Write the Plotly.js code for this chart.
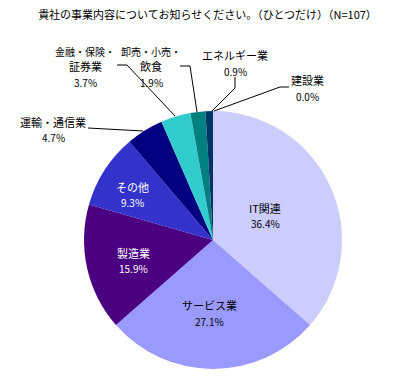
<!DOCTYPE html>
<html>
<head>
<meta charset="utf-8">
<script src="https://cdn.plot.ly/plotly-3.0.1.min.js"></script>
<style>html,body{margin:0;padding:0;background:#fff;}#chart{width:415px;height:380px;}</style>
</head>
<body>
<div id="chart"></div>
<script>
var categories = ["IT関連","サービス業","製造業","その他","運輸・通信業","金融・保険・証券業","卸売・小売・飲食","エネルギー業","建設業"];
var counts = [39, 29, 17, 10, 5, 4, 2, 1, 0];
var percents = ["36.4%","27.1%","15.9%","9.3%","4.7%","3.7%","1.9%","0.9%","0.0%"];
var colors = ["#CCCCFF","#9999FF","#4B0082","#3333CC","#000080","#33CCCC","#008080","#003366","#C0C0C0"];
var labelLines = [["IT関連"],["サービス業"],["製造業"],["その他"],["運輸・通信業"],["金融・保険・","証券業"],["卸売・小売・","飲食"],["エネルギー業"],["建設業"]];
var labelColor = ["#000","#000","#fff","#fff","#000","#000","#000","#000","#000"];

var W = 415, H = 380;
function px(x){ return x / W; }
function py(y){ return 1 - y / H; }

// label center x and line y positions (pixel): name lines..., percent line
var labelX = [265, 210, 133, 132, 53, 85, 151, 235, 307];
var labelY = [[208,223],[305,321],[253,268],[187,202],[122,137],[52,66,82],[52,66,82],[55,71],[80,96]];
var leaders = [null,null,null,null,
  [[88,128],[143,131]],
  [[117,65],[127,65],[175,116]],
  [[180,66],[190,66],[197,112]],
  [[235,77],[235,88],[212,111]],
  [[289,87],[280,87],[214,111]]
];

var annotations = [];
categories.forEach(function(c,i){
  var lines = labelLines[i].concat([percents[i]]);
  lines.forEach(function(t,k){
    var isPct = (k === lines.length-1);
    var sz = isPct ? 10 : (t.length >= 6 && t.slice(-1) === "・" ? 10 : 11);
    annotations.push({
      xref:"paper", yref:"paper", x:px(labelX[i]), y:py(labelY[i][k]),
      xanchor:"center", yanchor:"middle", showarrow:false, align:"center",
      text:t,
      font:{family:"Noto Sans CJK JP, sans-serif", size:sz, color:labelColor[i]}
    });
  });
});

var shapes = [];
leaders.forEach(function(l){
  if(!l) return;
  var p = "M " + px(l[0][0]) + "," + py(l[0][1]);
  for(var k=1;k<l.length;k++) p += " L " + px(l[k][0]) + "," + py(l[k][1]);
  shapes.push({type:"path", xref:"paper", yref:"paper", path:p, line:{color:"#000", width:1}});
});

var trace = {
  type:"pie", labels:categories, values:counts, sort:false, direction:"clockwise", rotation:0,
  marker:{colors:colors, line:{width:0}},
  textinfo:"none", hoverinfo:"label+percent", showlegend:false,
  domain:{x:[84/W, 342/W], y:[11/H, 269/H]}
};

var layout = {
  width:W, height:H, margin:{l:0,r:0,t:0,b:0},
  paper_bgcolor:"#fff", plot_bgcolor:"#fff",
  title:{text:"貴社の事業内容についてお知らせください。（ひとつだけ）（N=107）", x:0.5, xanchor:"center", y:1-15/H, yanchor:"middle",
    font:{family:"Noto Sans CJK JP, sans-serif", size:11, color:"#000"}},
  annotations:annotations, shapes:shapes, showlegend:false
};
Plotly.newPlot("chart",[trace],layout,{staticPlot:true});
</script>
</body>
</html>
